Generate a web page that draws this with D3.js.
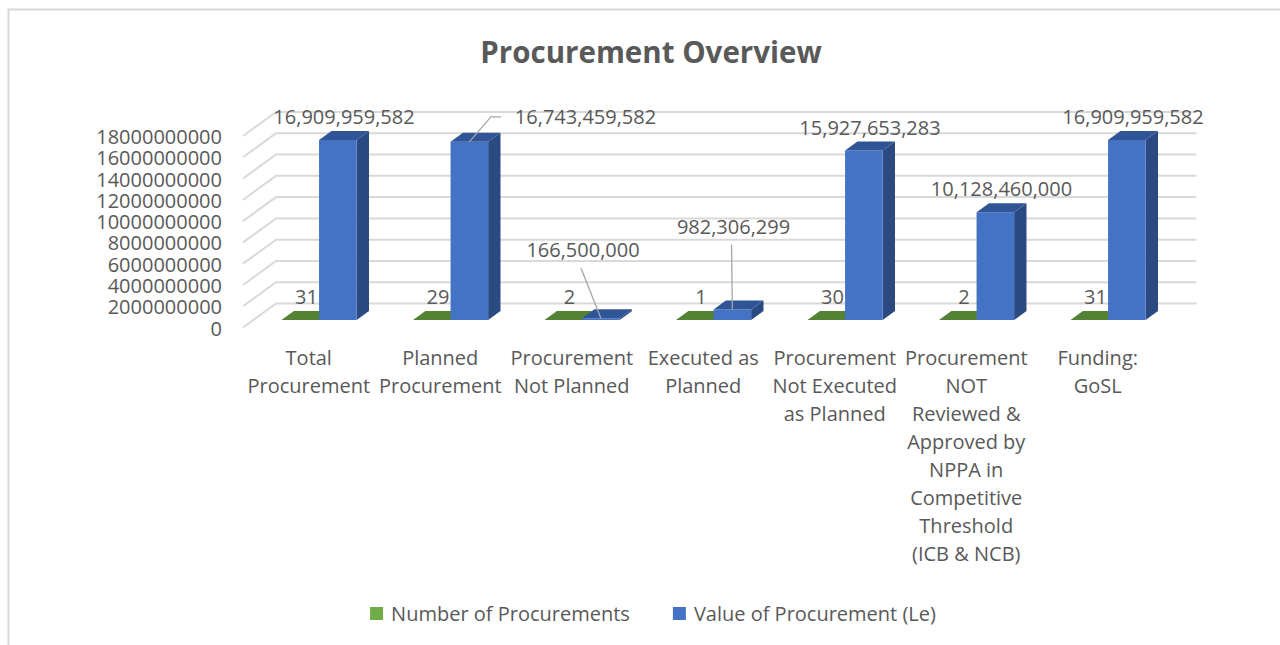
<!DOCTYPE html>
<html>
<head>
<meta charset="utf-8">
<title>Procurement Overview</title>
<script src="https://cdn.jsdelivr.net/npm/d3@7"></script>
<style>
  html, body { margin: 0; padding: 0; background: #fff; }
  svg { display: block; font-family: "Open Sans", sans-serif; }
  text { fill: #595959; }
</style>
</head>
<body>
<svg id="chart" width="1280" height="645"></svg>
<script>
// ── Data ──
const categoryLines = [
  ["Total", "Procurement"],
  ["Planned", "Procurement"],
  ["Procurement", "Not Planned"],
  ["Executed as", "Planned"],
  ["Procurement", "Not Executed", "as Planned"],
  ["Procurement", "NOT", "Reviewed &", "Approved by", "NPPA in", "Competitive", "Threshold", "(ICB & NCB)"],
  ["Funding:", "GoSL"]
];
const categories = categoryLines.map(l => l.join(" "));
const numberOfProcurements = [31, 29, 2, 1, 30, 2, 31];
const valueOfProcurement = [16909959582, 16743459582, 166500000, 982306299, 15927653283, 10128460000, 16909959582];
const seriesNames = ["Number of Procurements", "Value of Procurement (Le)"];
const yTicks = [0, 2e9, 4e9, 6e9, 8e9, 10e9, 12e9, 14e9, 16e9, 18e9];

// ── Layout ──
const DX = 33, DY = 24;          // full depth of the 3D box
const Z0 = 0.3125, Z1 = 0.6875;  // bars sit in the middle of the depth
const fontSize = 20;

const palette = {
  count: { front: "#70ad47", top: "#548235", side: "#4e7a32" },
  value: { front: "#4472c4", top: "#2f5597", side: "#2b4a82" }
};

// moved value labels (Excel had them dragged with leader lines)
const labelNudge = {
  1: { dx: 110, dy: -2, elbow: true },
  2: { dx: -24, dy: -45 },
  3: { dx: -5, dy: -60 }
};

const svg = d3.select("#chart");

// chart border
svg.append("rect")
  .attr("x", 8.5).attr("y", 9.5)
  .attr("width", 1300).attr("height", 700)
  .attr("fill", "none")
  .attr("stroke", "#d9d9d9")
  .attr("stroke-width", 2);

svg.append("text")
  .attr("x", 651).attr("y", 63)
  .attr("text-anchor", "middle")
  .attr("font-size", 29.5)
  .attr("font-weight", "bold")
  .text("Procurement Overview");

const x = d3.scaleBand().domain(categories).range([243, 1163.5]);
const sub = d3.scaleBand().domain(["count", "value"])
  .range([0, x.bandwidth()])
  .paddingOuter(0.75);
const y = d3.scaleLinear().domain([0, 18e9]).range([327.5, 136]);

function proj(px, v, z) {
  return [px + z * DX, y(v) - z * DY];
}

function poly(pts) {
  return "M" + pts.map(p => p.join(",")).join("L") + "Z";
}

// ── Grid (side wall + back wall) ──
const [x0, x1] = x.range();
svg.append("g")
  .selectAll("path")
  .data(yTicks)
  .join("path")
  .attr("d", d => {
    const a = proj(x0, d, 0), b = proj(x0, d, 1), c = proj(x1, d, 1);
    return `M${a}L${b}L${c}`;
  })
  .attr("fill", "none")
  .attr("stroke", "#d9d9d9")
  .attr("stroke-width", 2);

svg.append("g")
  .selectAll("text")
  .data(yTicks)
  .join("text")
  .attr("x", 222)
  .attr("y", d => y(d) + 1)
  .attr("dy", "0.35em")
  .attr("text-anchor", "end")
  .attr("font-size", fontSize)
  .text(d3.format("d"));

// ── Bars ──
const bars = [];
categories.forEach((c, i) => {
  bars.push({ i, key: "count", v: numberOfProcurements[i], left: x(c) + sub("count") });
  bars.push({ i, key: "value", v: valueOfProcurement[i], left: x(c) + sub("value") });
});
const bw = sub.bandwidth();

const barG = svg.append("g")
  .selectAll("g")
  .data(bars)
  .join("g");

barG.append("path")
  .attr("d", d => poly([
    proj(d.left + bw, 0, Z0), proj(d.left + bw, 0, Z1),
    proj(d.left + bw, d.v, Z1), proj(d.left + bw, d.v, Z0)
  ]))
  .attr("fill", d => palette[d.key].side);

barG.append("path")
  .attr("d", d => poly([
    proj(d.left, 0, Z0), proj(d.left + bw, 0, Z0),
    proj(d.left + bw, d.v, Z0), proj(d.left, d.v, Z0)
  ]))
  .attr("fill", d => palette[d.key].front);

barG.append("path")
  .attr("d", d => poly([
    proj(d.left, d.v, Z0), proj(d.left + bw, d.v, Z0),
    proj(d.left + bw, d.v, Z1), proj(d.left, d.v, Z1)
  ]))
  .attr("fill", d => palette[d.key].top);

// ── Data labels ──
const fmtValue = d3.format(",");
const labelG = svg.append("g");

bars.forEach(d => {
  const mid = proj(d.left + bw / 2, d.v, 0.5);
  let lx = mid[0], ly = mid[1] - 18.5;
  const nudge = d.key === "value" ? labelNudge[d.i] : null;
  if (nudge) { lx += nudge.dx; ly += nudge.dy; }

  const t = labelG.append("text")
    .attr("x", lx)
    .attr("y", ly)
    .attr("dy", "0.35em")
    .attr("text-anchor", "middle")
    .attr("font-size", fontSize)
    .text(d.key === "value" ? fmtValue(d.v) : d.v);

  if (nudge) {
    const from = proj(d.left + bw / 2, d.v, Z0);
    let path;
    if (nudge.elbow) {
      const left = lx - t.node().getComputedTextLength() / 2;
      path = `M${from}L${left - 24},${ly}L${left - 14},${ly}`;
    } else {
      path = `M${from}L${lx - 2},${ly + 18}`;
    }
    labelG.append("path")
      .attr("d", path)
      .attr("fill", "none")
      .attr("stroke", "#a6a6a6")
      .attr("stroke-width", 1.3);
  }
});

// ── Category labels ──
svg.append("g")
  .selectAll("text")
  .data(categoryLines)
  .join("text")
  .attr("x", (d, i) => x(categories[i]) + x.bandwidth() / 2)
  .attr("y", 365)
  .attr("text-anchor", "middle")
  .attr("font-size", fontSize)
  .selectAll("tspan")
  .data(d => d)
  .join("tspan")
  .attr("x", function () { return this.parentNode.getAttribute("x"); })
  .attr("dy", (d, i) => i === 0 ? 0 : 28)
  .text(d => d);

// ── Legend ──
const legend = svg.append("g");
const items = seriesNames.map((name, i) => {
  const g = legend.append("g");
  g.append("rect")
    .attr("width", 13).attr("height", 13)
    .attr("y", -7)
    .attr("fill", i === 0 ? palette.count.front : palette.value.front);
  const t = g.append("text")
    .attr("x", 21)
    .attr("dy", "0.35em")
    .attr("font-size", fontSize)
    .text(name);
  return { g, w: 21 + t.node().getComputedTextLength() };
});
const gap = 43;
const total = d3.sum(items, d => d.w) + gap * (items.length - 1);
let cx = 653 - total / 2;
items.forEach(it => {
  it.g.attr("transform", `translate(${cx},614)`);
  cx += it.w + gap;
});
</script>
</body>
</html>
